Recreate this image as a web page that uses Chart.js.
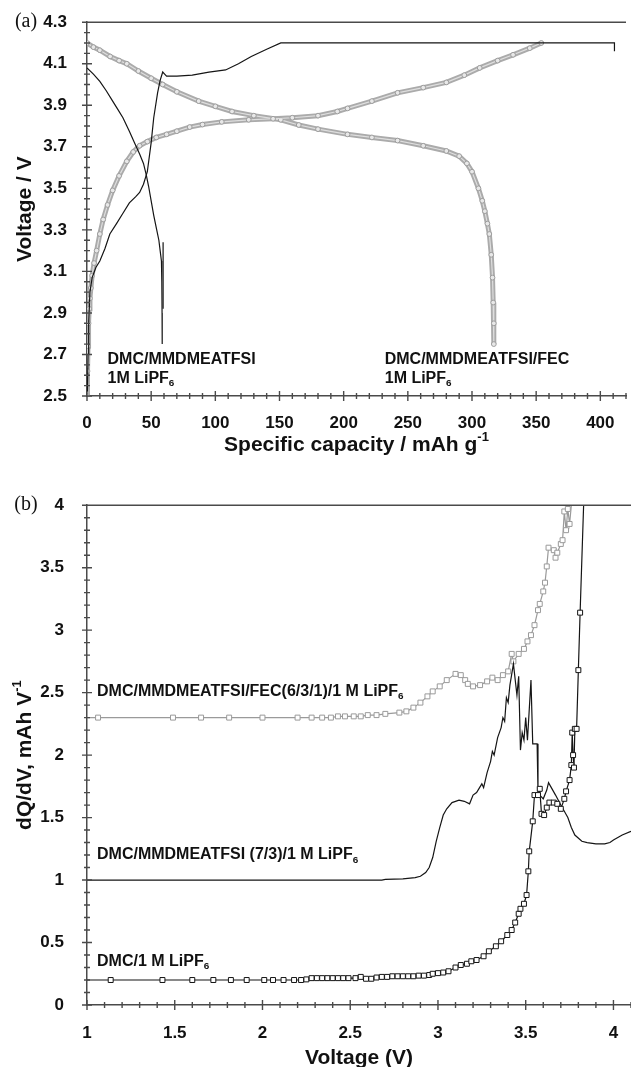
<!DOCTYPE html>
<html>
<head>
<meta charset="utf-8">
<title>Voltage profiles and dQ/dV</title>
<script src="https://cdn.jsdelivr.net/npm/chart.js@4.4.1/dist/chart.umd.min.js"></script>
<style>
body { margin: 0; background: #fff; }
#wrap { position: relative; width: 631px; height: 1067px; }
canvas { position: absolute; left: 0; }
#top { top: 0; }
#bot { top: 480px; }
</style>
</head>
<body>
<div id="wrap">
  <canvas id="top" width="631" height="480"></canvas>
  <canvas id="bot" width="631" height="587"></canvas>
</div>

<script>
// ---- panel (a): specific capacity (mAh/g) vs voltage (V) ----
var capTicks = [0, 50, 100, 150, 200, 250, 300, 350, 400];
var voltTicks = [2.5, 2.7, 2.9, 3.1, 3.3, 3.5, 3.7, 3.9, 4.1, 4.3];

// DMC/MMDMEATFSI 1M LiPF6 (black line)
var blackCharge = [[0.3,2.52],[0.8,2.7],[1.3,2.85],[2.3,3.0],[4,3.07],[7,3.12],[10,3.15],[14,3.21],[17.8,3.28],
  [23,3.33],[28,3.38],[33,3.43],[38,3.46],[41,3.48],[44,3.52],[47,3.58],[50,3.72],[52,3.84],[55,3.96],[57,4.02],
  [59,4.06],[60.5,4.05],[62,4.04],[70,4.04],[82,4.045],[95,4.06],[108,4.07],[118,4.1],[128,4.135],[140,4.17],
  [151,4.2],[250,4.2],[411,4.2],[411,4.16]];
var blackDischarge = [[0,4.08],[5,4.05],[10,4.015],[15,3.97],[20,3.92],[24,3.88],[28,3.84],[33,3.775],[37,3.72],
  [41,3.665],[44,3.62],[46,3.57],[48,3.51],[50,3.44],[52,3.37],[54,3.31],[56,3.25],[57,3.2],[58,3.15],
  [58.3,3.05],[58.5,2.9],[58.6,2.75]];
var blackSpike = [[59.3,3.24],[59.3,2.92]];

// DMC/MMDMEATFSI/FEC 1M LiPF6 (grey circles)
var greyCharge = [[0,2.5],[0.4,2.62],[0.8,2.74],[1.2,2.85],[1.7,2.92],[2.3,2.97],[3,3.02],[4,3.08],[5.5,3.14],
  [7.5,3.2],[10,3.28],[12.6,3.35],[16,3.42],[20,3.49],[25,3.56],[31,3.63],[36,3.675],[41,3.705],[47,3.725],
  [54,3.745],[62,3.76],[70,3.775],[80,3.795],[90,3.807],[105,3.82],[126,3.83],[145,3.835],[160,3.84],[180,3.85],
  [195,3.87],[203,3.885],[222,3.92],[242,3.96],[262,3.985],[280,4.01],[294,4.045],[306,4.08],[320,4.115],
  [332,4.143],[345,4.175],[354,4.2]];
var greyDischarge = [[0,4.2],[5,4.18],[10,4.165],[18,4.135],[25,4.115],[31,4.1],[40,4.065],[50,4.03],[59,4.0],
  [70,3.965],[87,3.92],[100,3.895],[113,3.87],[130,3.85],[151,3.83],[165,3.805],[180,3.785],[203,3.76],
  [222,3.745],[242,3.73],[262,3.705],[280,3.68],[290,3.655],[296,3.62],[300,3.58],[305,3.5],[308,3.44],
  [310,3.39],[312,3.33],[313.5,3.28],[315,3.18],[316,3.07],[316.5,2.95],[317,2.85],[317,2.75]];

// ---- panel (b): voltage (V) vs dQ/dV ----
var voltTicksB = [1, 1.5, 2, 2.5, 3, 3.5, 4];
var dqTicks = [0, 0.5, 1, 1.5, 2, 2.5, 3, 3.5, 4];

// DMC/MMDMEATFSI/FEC(6/3/1)/1 M LiPF6 (grey squares)
var fecSeries = [[1.0,2.3],[1.063,2.3],[1.49,2.3],[1.65,2.3],[1.81,2.3],[2.0,2.3],[2.2,2.3],[2.28,2.3],[2.34,2.3],
  [2.39,2.3],[2.43,2.31],[2.47,2.31],[2.52,2.31],[2.56,2.31],[2.6,2.32],[2.65,2.32],[2.7,2.33],[2.78,2.34],
  [2.82,2.35],[2.86,2.38],[2.9,2.42],[2.94,2.47],[2.97,2.51],[3.01,2.55],[3.05,2.6],[3.1,2.65],[3.13,2.64],
  [3.155,2.6],[3.17,2.57],[3.2,2.55],[3.24,2.56],[3.28,2.59],[3.31,2.62],[3.34,2.6],[3.37,2.64],[3.4,2.67],
  [3.42,2.81],[3.43,2.75],[3.46,2.81],[3.49,2.85],[3.51,2.91],[3.53,2.96],[3.55,3.04],[3.57,3.16],[3.58,3.21],
  [3.6,3.31],[3.61,3.38],[3.62,3.51],[3.63,3.66],[3.66,3.64],[3.67,3.58],[3.68,3.62],[3.7,3.69],[3.71,3.72],
  [3.72,3.95],[3.73,3.8],[3.74,3.97],[3.75,3.85],[3.76,4.0]];

// DMC/MMDMEATFSI (7/3)/1 M LiPF6 (black line)
var ilSeries = [[1.0,1.0],[1.5,1.0],[2.0,1.0],[2.5,1.0],[2.68,1.0],[2.7,1.005],[2.8,1.01],[2.87,1.02],[2.9,1.03],
  [2.93,1.06],[2.95,1.1],[2.97,1.18],[2.99,1.31],[3.01,1.42],[3.03,1.52],[3.05,1.57],[3.08,1.62],[3.12,1.64],
  [3.15,1.63],[3.18,1.61],[3.2,1.68],[3.22,1.7],[3.25,1.77],[3.26,1.74],[3.28,1.86],[3.3,1.95],[3.31,2.03],
  [3.32,2.0],[3.34,2.14],[3.36,2.22],[3.37,2.3],[3.38,2.27],[3.39,2.46],[3.4,2.42],[3.41,2.56],[3.43,2.73],
  [3.45,2.48],[3.46,2.63],[3.47,2.04],[3.48,2.18],[3.49,2.12],[3.5,2.3],[3.51,2.12],[3.53,2.6],[3.54,2.09],
  [3.565,2.09],[3.57,1.7],[3.58,1.68],[3.6,1.65],[3.62,1.72],[3.63,1.78],[3.65,1.73],[3.67,1.68],[3.7,1.6],
  [3.72,1.55],[3.74,1.5],[3.76,1.42],[3.78,1.36],[3.82,1.31],[3.85,1.3],[3.9,1.29],[3.95,1.29],[3.98,1.3],
  [4.0,1.32],[4.05,1.36],[4.1,1.39]];

// DMC/1 M LiPF6 (black squares)
var dmcSeries = [[1.0,0.2],[1.135,0.2],[1.43,0.2],[1.6,0.2],[1.72,0.2],[1.82,0.2],[1.91,0.2],[2.01,0.2],[2.06,0.2],
  [2.12,0.2],[2.18,0.2],[2.22,0.2],[2.25,0.205],[2.28,0.215],[2.31,0.215],[2.34,0.215],[2.37,0.215],[2.4,0.215],
  [2.43,0.215],[2.46,0.215],[2.49,0.215],[2.53,0.215],[2.56,0.225],[2.59,0.21],[2.62,0.21],[2.65,0.22],
  [2.68,0.225],[2.71,0.225],[2.74,0.23],[2.77,0.23],[2.8,0.23],[2.83,0.23],[2.86,0.23],[2.89,0.235],[2.92,0.235],
  [2.95,0.24],[2.97,0.25],[3.0,0.255],[3.03,0.26],[3.06,0.27],[3.1,0.3],[3.13,0.32],[3.165,0.33],[3.19,0.35],
  [3.22,0.36],[3.26,0.39],[3.29,0.43],[3.33,0.47],[3.36,0.51],[3.395,0.56],[3.42,0.6],[3.44,0.66],[3.46,0.73],
  [3.47,0.77],[3.49,0.81],[3.505,0.88],[3.515,1.07],[3.52,1.23],[3.54,1.47],[3.55,1.68],[3.57,1.68],[3.58,1.73],
  [3.59,1.53],[3.605,1.52],[3.62,1.58],[3.635,1.62],[3.66,1.62],[3.68,1.61],[3.7,1.57],[3.72,1.65],[3.73,1.71],
  [3.75,1.8],[3.76,1.92],[3.765,2.18],[3.77,2.0],[3.775,1.9],[3.78,2.21],[3.79,2.21],[3.8,2.68],[3.81,3.14],
  [3.83,4.0]];

var SANS = '"Liberation Sans", Arial, Helvetica, sans-serif';

// text with sub/superscript pieces
function drawRich(ctx, parts, x, y, size, align) {
  var fonts = parts.map(function (p) {
    return 'bold ' + (p.s ? size * 0.62 : size) + 'px ' + SANS;
  });
  var w = 0;
  parts.forEach(function (p, i) { ctx.font = fonts[i]; w += ctx.measureText(p.t).width; });
  var cx = align === 'center' ? x - w / 2 : x;
  ctx.textAlign = 'left';
  ctx.textBaseline = 'middle';
  parts.forEach(function (p, i) {
    ctx.font = fonts[i];
    var dy = p.s === 'sub' ? size * 0.3 : (p.s === 'sup' ? -size * 0.38 : 0);
    ctx.fillText(p.t, cx, y + dy);
    cx += ctx.measureText(p.t).width;
  });
}

function isMajor(v, ticks, step) {
  return ticks.some(function (t) { return Math.abs(t - v) < step / 10; });
}

// top frame line, major/minor ticks, notes and titles
function decor(o) {
  return {
    id: 'decor',
    afterDraw: function (chart) {
      var ctx = chart.ctx, a = chart.chartArea, x = chart.scales.x, y = chart.scales.y;
      var i, v, p, len;
      ctx.save();
      ctx.strokeStyle = '#4a4a4a';
      ctx.lineWidth = 1.4;
      ctx.beginPath();
      ctx.moveTo(a.left, a.top);
      ctx.lineTo(a.right, a.top);
      for (i = 0; (v = x.min + i * o.xMinor) <= x.max + 1e-9; i++) {
        p = x.getPixelForValue(v);
        len = isMajor(v, o.xTicks, o.xMinor) ? 5 : 3;
        ctx.moveTo(p, a.bottom - len);
        ctx.lineTo(p, a.bottom + len);
      }
      for (i = 0; (v = y.min + i * o.yMinor) <= y.max + 1e-9; i++) {
        p = y.getPixelForValue(v);
        len = isMajor(v, o.yTicks, o.yMinor) ? 5 : 3;
        ctx.moveTo(a.left - len, p);
        ctx.lineTo(a.left + len, p);
      }
      ctx.stroke();

      ctx.fillStyle = '#111';
      o.notes.forEach(function (n) {
        drawRich(ctx, n.parts, x.getPixelForValue(n.x), y.getPixelForValue(n.y), 16, 'left');
      });

      drawRich(ctx, o.xTitle, (a.left + a.right) / 2, a.bottom + o.xTitleDy, 21, 'center');
      ctx.save();
      ctx.translate(25, (a.top + a.bottom) / 2);
      ctx.rotate(-Math.PI / 2);
      drawRich(ctx, o.yTitle, 0, 0, 21, 'center');
      ctx.restore();

      ctx.font = '20px "Liberation Serif", "Times New Roman", serif';
      ctx.textAlign = 'center';
      ctx.textBaseline = 'middle';
      ctx.fillText(o.panel, 26, a.top);
      ctx.restore();
    }
  };
}

function axis(min, max, ticks, fmt, pad, fit) {
  return {
    type: 'linear',
    min: min,
    max: max,
    grid: { display: false },
    border: { display: true, color: '#4a4a4a', width: 1.5 },
    afterBuildTicks: function (s) { s.ticks = ticks.map(function (v) { return { value: v }; }); },
    afterFit: fit,
    ticks: {
      autoSkip: false,
      maxRotation: 0,
      padding: pad,
      color: '#111',
      font: { family: SANS, size: 17, weight: 'bold' },
      callback: fmt
    }
  };
}

function line(data, color, width, order) {
  return { data: data, showLine: true, borderColor: color, borderWidth: width, pointRadius: 0, order: order };
}

function rope(data) {
  return [
    { data: data, showLine: true, borderColor: '#ababab', borderWidth: 5, pointRadius: 0, order: 3 },
    { data: data, showLine: true, borderColor: '#dedede', borderWidth: 1.2, pointRadius: 2.4,
      pointBorderWidth: 1, pointBorderColor: '#9d9d9d', pointBackgroundColor: '#e8e8e8', order: 2 }
  ];
}

function squares(data, color) {
  return {
    data: data, showLine: true, borderColor: color, borderWidth: 1.2, pointStyle: 'rect',
    pointRadius: function (c) { return (c.dataIndex === 0 || c.dataIndex === data.length - 1) ? 0 : 3.5; },
    pointBorderColor: color, pointBorderWidth: 1, pointBackgroundColor: '#fff'
  };
}

var common = {
  responsive: false,
  animation: false,
  plugins: { legend: { display: false }, tooltip: { enabled: false } }
};

new Chart(document.getElementById('top'), {
  type: 'scatter',
  data: {
    datasets: [
      line(blackCharge, '#151515', 1.2, 0),
      line(blackDischarge, '#151515', 1.2, 0),
      line(blackSpike, '#151515', 1.2, 0)
    ].concat(rope(greyCharge), rope(greyDischarge))
  },
  options: Object.assign({}, common, {
    layout: { padding: { top: 21, left: 0, right: 0, bottom: 0 } },
    scales: {
      x: axis(0, 420, capTicks, function (v) { return String(v); }, 9, function (s) { s.height = 84; }),
      y: axis(2.5, 4.3, voltTicks, function (v) { return v.toFixed(1); }, 12, function (s) { s.width = 87; })
    }
  }),
  plugins: [decor({
    panel: '(a)',
    xTicks: capTicks, xMinor: 10,
    yTicks: voltTicks, yMinor: 0.05,
    xTitleDy: 49,
    xTitle: [{ t: 'Specific capacity / mAh g' }, { t: '-1', s: 'sup' }],
    yTitle: [{ t: 'Voltage / V' }],
    notes: [
      { x: 16, y: 2.677, parts: [{ t: 'DMC/MMDMEATFSI' }] },
      { x: 16, y: 2.586, parts: [{ t: '1M LiPF' }, { t: '6', s: 'sub' }] },
      { x: 232, y: 2.677, parts: [{ t: 'DMC/MMDMEATFSI/FEC' }] },
      { x: 232, y: 2.586, parts: [{ t: '1M LiPF' }, { t: '6', s: 'sub' }] }
    ]
  })]
});

new Chart(document.getElementById('bot'), {
  type: 'scatter',
  data: {
    datasets: [
      squares(dmcSeries, '#151515'),
      line(ilSeries, '#151515', 1.2, 0),
      squares(fecSeries, '#9a9a9a')
    ]
  },
  options: Object.assign({}, common, {
    layout: { padding: { top: 12, left: 0, right: 0, bottom: 0 } },
    scales: {
      x: axis(1, 4.1, voltTicksB, function (v) { return String(v); }, 10, function (s) { s.height = 62; }),
      y: axis(0, 4, dqTicks, function (v) { return String(v); }, 15, function (s) { s.width = 87; })
    }
  }),
  plugins: [decor({
    panel: '(b)',
    xTicks: voltTicksB, xMinor: 0.1,
    yTicks: dqTicks, yMinor: 0.1,
    xTitleDy: 53,
    xTitle: [{ t: 'Voltage (V)' }],
    yTitle: [{ t: 'dQ/dV, mAh V' }, { t: '-1', s: 'sup' }],
    notes: [
      { x: 1.057, y: 2.51, parts: [{ t: 'DMC/MMDMEATFSI/FEC(6/3/1)/1 M LiPF' }, { t: '6', s: 'sub' }] },
      { x: 1.057, y: 1.2, parts: [{ t: 'DMC/MMDMEATFSI (7/3)/1 M LiPF' }, { t: '6', s: 'sub' }] },
      { x: 1.057, y: 0.35, parts: [{ t: 'DMC/1 M LiPF' }, { t: '6', s: 'sub' }] }
    ]
  })]
});
</script>
</body>
</html>
